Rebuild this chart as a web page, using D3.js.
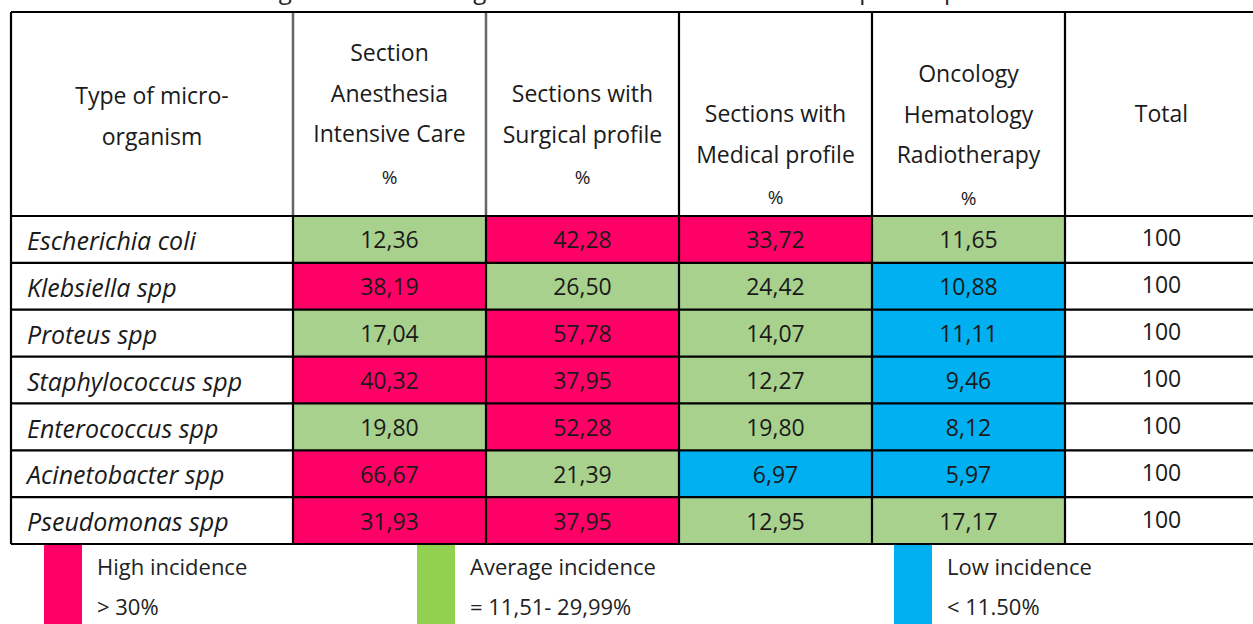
<!DOCTYPE html>
<html>
<head>
<meta charset="utf-8">
<script src="https://cdn.jsdelivr.net/npm/d3@7"></script>
<style>
  html, body { margin: 0; padding: 0; background: #fff; }
  svg { display: block; }
</style>
</head>
<body>
<svg id="chart" width="1253" height="624"></svg>
<script>
// ---------------- DATA ----------------
const titleText = "Distribution of microorganisms according to the total number of isolations per hospital";
const organisms = ["Escherichia coli", "Klebsiella spp", "Proteus spp", "Staphylococcus spp",
                   "Enterococcus spp", "Acinetobacter spp", "Pseudomonas spp"];
const columnKeys = ["icu", "surgical", "medical", "oncology", "total"];
const headerLabels = [
  ["Type of micro-", "organism"],
  ["Section", "Anesthesia", "Intensive Care", "%"],
  ["Sections with", "Surgical profile", "%"],
  ["Sections with", "Medical profile", "%"],
  ["Oncology", "Hematology", "Radiotherapy", "%"],
  ["Total"]
];
const anesthesiaICU = [12.36, 38.19, 17.04, 40.32, 19.80, 66.67, 31.93];
const surgicalProfile = [42.28, 26.50, 57.78, 37.95, 52.28, 21.39, 37.95];
const medicalProfile = [33.72, 24.42, 14.07, 12.27, 19.80, 6.97, 12.95];
const oncologyHemRadio = [11.65, 10.88, 11.11, 9.46, 8.12, 5.97, 17.17];
const totals = [100, 100, 100, 100, 100, 100, 100];
const thresholds = [11.505, 30];
const legendTitles = ["High incidence", "Average incidence", "Low incidence"];
const legendRanges = ["> 30%", "= 11,51- 29,99%", "< 11.50%"];

// ---------------- LAYOUT / STYLE ----------------
const W = 1253, H = 624;
const FONT = "'Open Sans', 'Noto Sans', sans-serif";
const FS = 23;
const tableLeft = 11, tableTop = 12, headerBottom = 216, tableBottom = 544;
const firstColRight = 293, colWidth = 193;
const headerFirstBaseline = [104, 61, 102, 122, 82, 122];
const headerStep = 40.5;
const cellColors = ["#00B0F0", "#A9D18E", "#FF0066"];   // low, average, high
const legendColors = ["#FF0066", "#92D050", "#00B0F0"];
const legendX = [44, 417, 894];

const svg = d3.select("#chart");
const fmt = d3.formatLocale({decimal: ",", thousands: ".", grouping: [3], currency: ["", ""]}).format(".2f");

// scales
const x = d3.scaleBand().domain(columnKeys)
  .range([firstColRight, firstColRight + colWidth * columnKeys.length]).padding(0);
const y = d3.scaleBand().domain(organisms).range([headerBottom, tableBottom]).padding(0);
const color = d3.scaleThreshold().domain(thresholds).range(cellColors);

const seriesByKey = {
  icu: anesthesiaICU, surgical: surgicalProfile, medical: medicalProfile,
  oncology: oncologyHemRadio, total: totals
};

// title (clipped at top like the reference)
svg.append("text")
  .attr("x", 23).attr("y", -1)
  .attr("font-family", FONT).attr("font-size", 24).attr("fill", "#222")
  .text(titleText);

// table cells
const cells = [];
organisms.forEach((org, i) => {
  columnKeys.forEach(k => cells.push({org, key: k, value: seriesByKey[k][i]}));
});

svg.append("g").selectAll("rect").data(cells.filter(d => d.key !== "total")).join("rect")
  .attr("x", d => x(d.key)).attr("y", d => y(d.org))
  .attr("width", x.bandwidth()).attr("height", y.bandwidth())
  .attr("fill", d => color(d.value));

// grid lines
const grid = svg.append("g").attr("stroke", "#000").attr("stroke-width", 2.2);
const hLines = [tableTop, headerBottom, ...organisms.map(o => y(o) + y.bandwidth())];
grid.selectAll("line.h").data(hLines).join("line").attr("class", "h")
  .attr("x1", tableLeft).attr("x2", W + 10).attr("y1", d => d).attr("y2", d => d);
const vLines = [tableLeft, firstColRight, ...columnKeys.map(k => x(k) + x.bandwidth())];
grid.selectAll("line.v").data(vLines).join("line").attr("class", "v")
  .attr("x1", d => d).attr("x2", d => d).attr("y1", tableTop).attr("y2", tableBottom);
svg.append("g").selectAll("line").data([firstColRight, x("icu") + x.bandwidth()]).join("line")
  .attr("x1", d => d).attr("x2", d => d).attr("y1", tableTop + 1).attr("y2", headerBottom - 1)
  .attr("stroke", "#666").attr("stroke-width", 2.2);

// header text
const headerCenters = [(tableLeft + firstColRight) / 2, ...columnKeys.map(k => x(k) + x.bandwidth() / 2)];
const hdr = svg.append("g").attr("font-family", FONT).attr("fill", "#1a1a1a").attr("text-anchor", "middle");
headerLabels.forEach((lines, c) => {
  lines.forEach((t, j) => {
    hdr.append("text")
      .attr("x", headerCenters[c])
      .attr("y", headerFirstBaseline[c] + j * headerStep + (t === "%" ? 1 : 0))
      .attr("font-size", t === "%" ? 19 : FS)
      .text(t);
  });
});

// row labels
svg.append("g").selectAll("text").data(organisms).join("text")
  .attr("x", 27).attr("y", d => y(d) + y.bandwidth() / 2 + 2)
  .attr("dy", "0.35em")
  .attr("font-family", FONT).attr("font-size", 25).attr("font-style", "italic").attr("fill", "#1a1a1a")
  .text(d => d);

// values
svg.append("g").selectAll("text").data(cells).join("text")
  .attr("x", d => x(d.key) + x.bandwidth() / 2)
  .attr("y", d => y(d.org) + y.bandwidth() / 2 + (d.key === "total" ? -1 : 1))
  .attr("dy", "0.35em").attr("text-anchor", "middle")
  .attr("font-family", FONT).attr("font-size", FS).attr("fill", "#1a1a1a")
  .text(d => d.key === "total" ? String(d.value) : fmt(d.value));

// legend
const lg = svg.append("g");
legendTitles.forEach((t, i) => {
  lg.append("rect").attr("x", legendX[i]).attr("y", tableBottom + 1)
    .attr("width", 38).attr("height", H - tableBottom).attr("fill", legendColors[i]);
  lg.append("text").attr("x", legendX[i] + 53).attr("y", 575)
    .attr("font-family", FONT).attr("font-size", FS - 1).attr("fill", "#222").text(t);
  lg.append("text").attr("x", legendX[i] + 53).attr("y", 615)
    .attr("font-family", FONT).attr("font-size", FS - 1).attr("fill", "#222").text(legendRanges[i]);
});
</script>
</body>
</html>
